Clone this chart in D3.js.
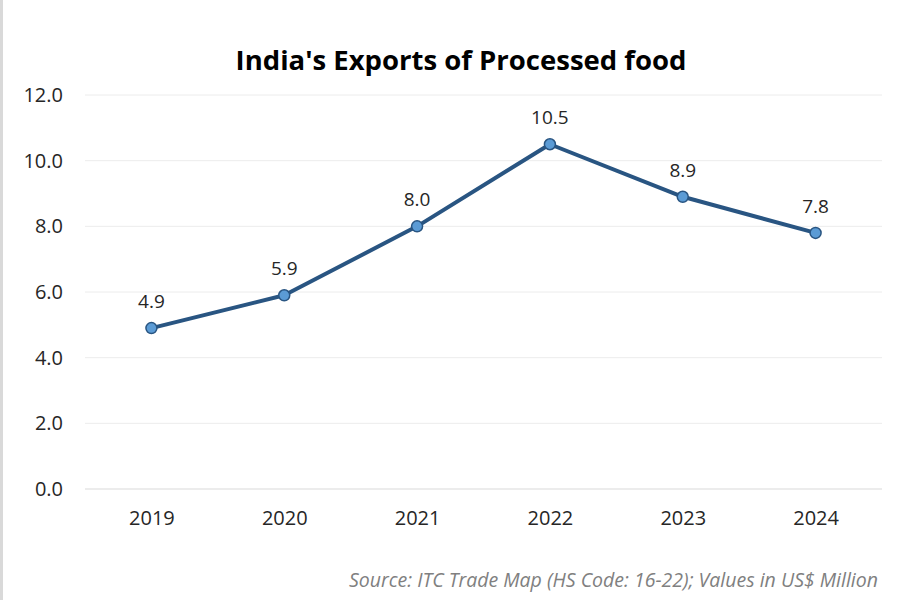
<!DOCTYPE html>
<html>
<head>
<meta charset="utf-8">
<script src="https://cdn.jsdelivr.net/npm/d3@7"></script>
<style>
  body { margin: 0; background: #fff; }
  svg { display: block; font-family: "Open Sans", "Noto Sans", sans-serif; }
</style>
</head>
<body>
<svg id="chart" width="900" height="600"></svg>
<script>
// chart data
var years = ["2019", "2020", "2021", "2022", "2023", "2024"];
var exportValues = [4.9, 5.9, 8.0, 10.5, 8.9, 7.8];
var yTicks = [0, 2, 4, 6, 8, 10, 12];

var svg = d3.select("#chart");
var margin = { left: 85, right: 18, top: 95, bottom: 111 };
var width = 900, height = 600;

// left edge frame line
svg.append("rect")
    .attr("x", 0).attr("y", 0)
    .attr("width", 3).attr("height", height)
    .attr("fill", "#d9d9d9");

var x = d3.scalePoint()
    .domain(years)
    .range([margin.left, width - margin.right])
    .padding(0.5);

var y = d3.scaleLinear()
    .domain([0, 12])
    .range([height - margin.bottom, margin.top]);

// gridlines
svg.append("g")
    .selectAll("line")
    .data(yTicks)
    .enter().append("line")
    .attr("x1", margin.left)
    .attr("x2", width - margin.right)
    .attr("y1", d => y(d))
    .attr("y2", d => y(d))
    .attr("stroke", d => d === 0 ? "#d9d9d9" : "#ececec")
    .attr("stroke-width", 1);

// y axis labels
var yAxis = d3.axisLeft(y).tickValues(yTicks).tickFormat(d3.format(".1f")).tickSize(0).tickPadding(22);
var yg = svg.append("g")
    .attr("transform", "translate(" + margin.left + ",0)")
    .call(yAxis);
yg.select(".domain").remove();
yg.selectAll("text")
    .attr("font-size", 20)
    .attr("fill", "#262626")
    .attr("font-family", "\"Open Sans\", sans-serif");

// x axis labels
var xAxis = d3.axisBottom(x).tickSize(0).tickPadding(22);
var xg = svg.append("g")
    .attr("transform", "translate(0," + (height - margin.bottom) + ")")
    .call(xAxis);
xg.select(".domain").remove();
xg.selectAll("text")
    .attr("font-size", 20)
    .attr("fill", "#262626")
    .attr("font-family", "\"Open Sans\", sans-serif");

var points = years.map(function (yr, i) { return { year: yr, value: exportValues[i] }; });

// the line
var line = d3.line()
    .x(d => x(d.year))
    .y(d => y(d.value));

svg.append("path")
    .datum(points)
    .attr("d", line)
    .attr("fill", "none")
    .attr("stroke", "#295582")
    .attr("stroke-width", 4)
    .attr("stroke-linejoin", "round");

// markers
svg.append("g")
    .selectAll("circle")
    .data(points)
    .enter().append("circle")
    .attr("cx", d => x(d.year))
    .attr("cy", d => y(d.value))
    .attr("r", 5.5)
    .attr("fill", "#5b9bd5")
    .attr("stroke", "#295582")
    .attr("stroke-width", 1.5);

// data labels
svg.append("g")
    .selectAll("text")
    .data(points)
    .enter().append("text")
    .attr("x", d => x(d.year))
    .attr("y", d => y(d.value) - 20)
    .attr("text-anchor", "middle")
    .attr("font-size", 19)
    .attr("fill", "#262626")
    .text(d => d3.format(".1f")(d.value));

// title
svg.append("text")
    .attr("x", 461)
    .attr("y", 70)
    .attr("text-anchor", "middle")
    .attr("font-size", 27.5)
    .attr("font-weight", "bold")
    .attr("fill", "#000")
    .text("India's Exports of Processed food");

// source note
svg.append("text")
    .attr("x", 878)
    .attr("y", 587)
    .attr("text-anchor", "end")
    .attr("font-size", 19.5)
    .attr("font-style", "italic")
    .attr("fill", "#808080")
    .text("Source: ITC Trade Map (HS Code: 16-22); Values in US$ Million");
</script>
</body>
</html>
